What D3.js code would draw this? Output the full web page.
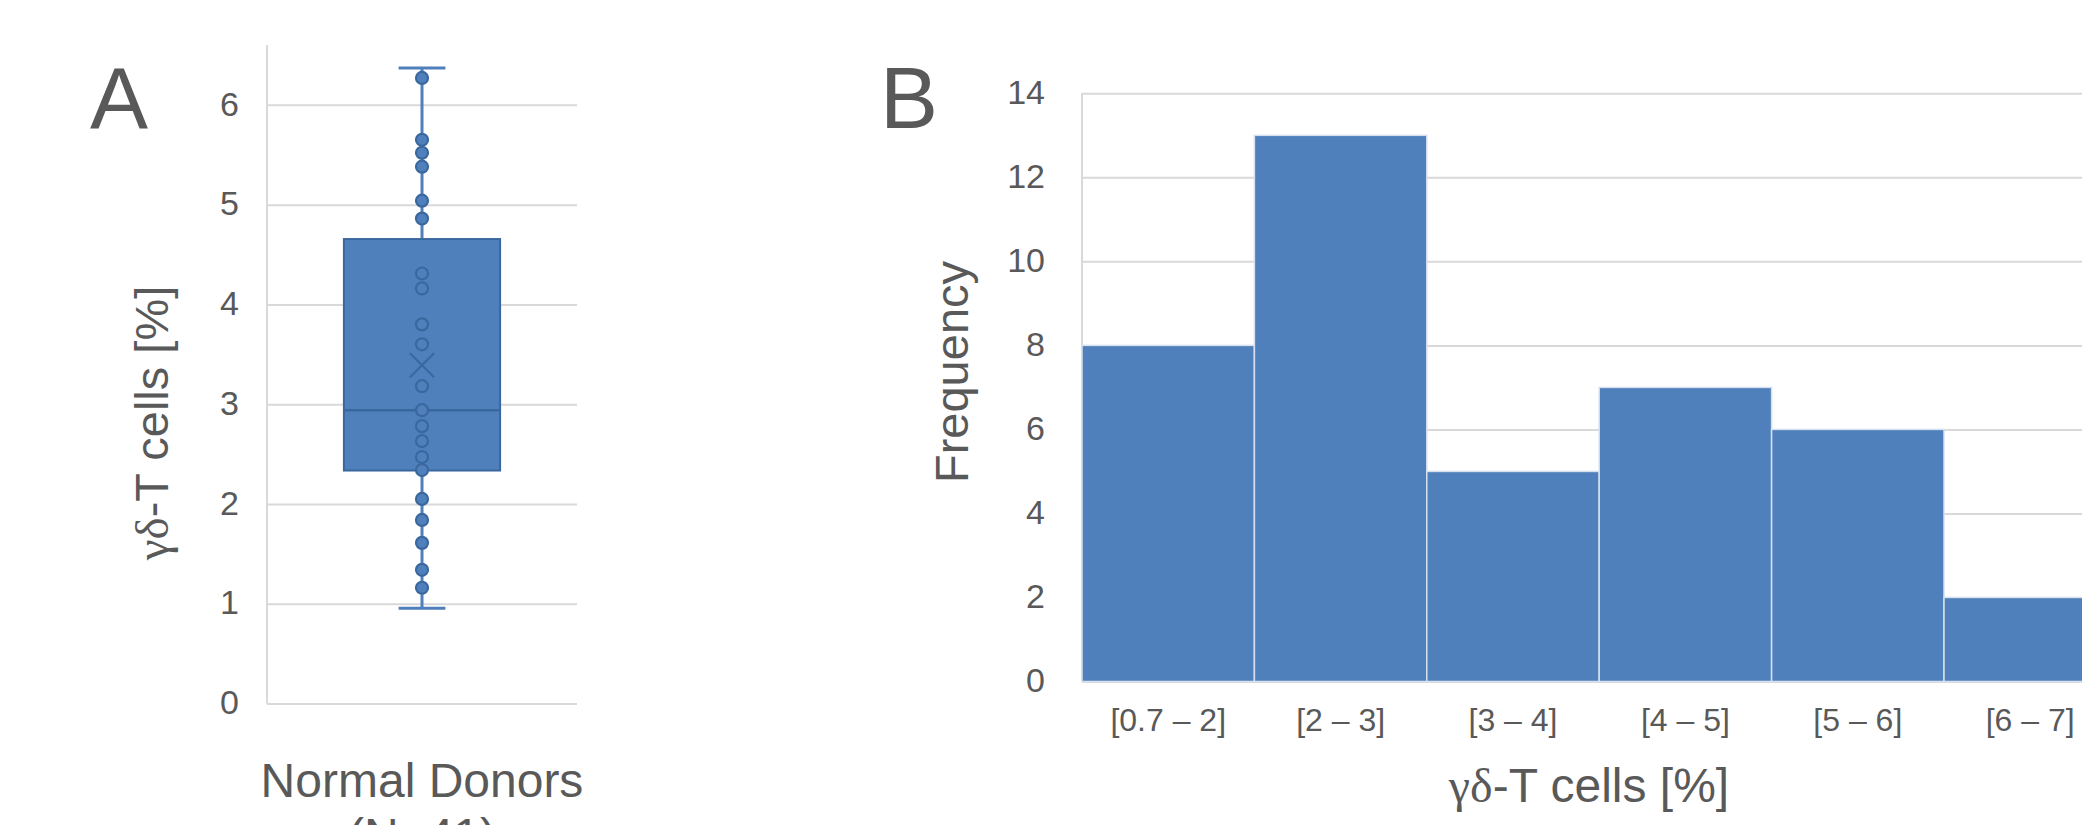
<!DOCTYPE html>
<html>
<head>
<meta charset="utf-8">
<script src="https://cdn.jsdelivr.net/npm/d3@7"></script>
<style>
  body { margin: 0; background: #fff; }
  svg { display: block; font-family: "Liberation Sans", Arial, sans-serif; }
</style>
</head>
<body>
<svg id="chart" width="2082" height="825"></svg>
<script>
// Panel A data: box plot of gd-T cells in normal donors
const donorGroup = ["Normal Donors"];
const fiveNumber = [0.955, 2.335, 2.94, 4.655, 6.37]; // min, q1, median, q3, max
const meanValue = 3.39;
const donorPoints = [6.27, 5.65, 5.52, 5.38, 5.04, 4.86, 4.31, 4.16, 3.80, 3.60,
  3.18, 2.94, 2.78, 2.63, 2.47, 2.34, 2.05, 1.84, 1.61, 1.34, 1.16];
const boxTicks = [0, 1, 2, 3, 4, 5, 6];

// Panel B data: histogram
const binLabels = ["[0.7 \u2013 2]", "[2 \u2013 3]", "[3 \u2013 4]", "[4 \u2013 5]", "[5 \u2013 6]", "[6 \u2013 7]"];
const binCounts = [8, 13, 5, 7, 6, 2];
const freqTicks = [0, 2, 4, 6, 8, 10, 12, 14];

const textColor = '#595959';
const gridColor = '#d9d9d9';
const barColor = '#4f80bc';
const edgeColor = '#3a689e';

const svg = d3.select('#chart');

// ---------- Panel A ----------
const aLeft = 267, aRight = 577, aTop = 45, aBottom = 703.5;
const yA = d3.scaleLinear().domain([0, 6.6]).range([aBottom, aTop]);
const xA = d3.scaleBand().domain(donorGroup).range([aLeft, aRight]).paddingInner(0.33).paddingOuter(0.33);

const gA = svg.append('g');

const axisA = gA.append('g')
  .attr('transform', `translate(${aLeft},0)`)
  .call(d3.axisLeft(yA).tickValues(boxTicks).tickFormat(d3.format('d'))
    .tickSize(-(aRight - aLeft)).tickPadding(28));
axisA.select('.domain').remove();
axisA.selectAll('line').attr('stroke', gridColor).attr('stroke-width', 2);
axisA.selectAll('text').attr('fill', textColor).style('font-size', '34px').attr('dy', '0.3em');

gA.append('line')
  .attr('x1', aLeft).attr('x2', aLeft)
  .attr('y1', yA(0)).attr('y2', yA(6.6))
  .attr('stroke', gridColor).attr('stroke-width', 2);

const bx = xA(donorGroup[0]);
const bw = xA.bandwidth();
const cx = bx + bw / 2;
const capW = bw * 0.3;

// whiskers
gA.append('line')
  .attr('x1', cx).attr('x2', cx)
  .attr('y1', yA(fiveNumber[0])).attr('y2', yA(fiveNumber[4]))
  .attr('stroke', barColor).attr('stroke-width', 3);
[fiveNumber[0], fiveNumber[4]].forEach(v => {
  gA.append('line')
    .attr('x1', cx - capW / 2).attr('x2', cx + capW / 2)
    .attr('y1', yA(v)).attr('y2', yA(v))
    .attr('stroke', barColor).attr('stroke-width', 3);
});

// box
gA.append('rect')
  .attr('x', bx).attr('width', bw)
  .attr('y', yA(fiveNumber[3]))
  .attr('height', yA(fiveNumber[1]) - yA(fiveNumber[3]))
  .attr('fill', barColor).attr('stroke', edgeColor).attr('stroke-width', 2);

gA.append('line')
  .attr('x1', bx).attr('x2', bx + bw)
  .attr('y1', yA(fiveNumber[2])).attr('y2', yA(fiveNumber[2]))
  .attr('stroke', edgeColor).attr('stroke-width', 2.5);

// inner points
gA.selectAll('circle.pt').data(donorPoints).join('circle')
  .attr('class', 'pt')
  .attr('cx', cx).attr('cy', d => yA(d))
  .attr('r', 6)
  .attr('fill', barColor).attr('stroke', edgeColor).attr('stroke-width', 2.2);

// mean marker
const my = yA(meanValue), ms = 12;
gA.append('path')
  .attr('d', `M${cx - ms},${my - ms}L${cx + ms},${my + ms}M${cx - ms},${my + ms}L${cx + ms},${my - ms}`)
  .attr('stroke', edgeColor).attr('stroke-width', 2.2).attr('fill', 'none');

// labels
gA.append('text').attr('x', 90).attr('y', 129)
  .attr('fill', textColor).style('font-size', '87px').text('A');

const yTitleA = gA.append('text')
  .attr('transform', `translate(168,423) rotate(-90)`)
  .attr('text-anchor', 'middle')
  .attr('fill', textColor).style('font-size', '47px');
yTitleA.append('tspan').style('font-family', '"Liberation Serif", serif').text('\u03b3\u03b4');
yTitleA.append('tspan').text('-T cells [%]');

const xTitleA = gA.append('text')
  .attr('x', cx).attr('y', 797)
  .attr('text-anchor', 'middle')
  .attr('fill', textColor).style('font-size', '48px');
xTitleA.append('tspan').attr('x', cx).text('Normal Donors');
xTitleA.append('tspan').attr('x', cx).attr('dy', 55).text('(N=41)');

// ---------- Panel B ----------
const bLeft = 1082, bTop = 93.3, bBottom = 681.5, binW = 172.4;
const bRight = bLeft + binW * binLabels.length;
const yB = d3.scaleLinear().domain([0, 14]).range([bBottom, bTop]);
const xB = d3.scaleBand().domain(binLabels).range([bLeft, bRight]).padding(0);

const gB = svg.append('g');

const axisB = gB.append('g')
  .attr('transform', `translate(${bLeft},0)`)
  .call(d3.axisLeft(yB).tickValues(freqTicks).tickSize(-(bRight - bLeft)).tickPadding(37));
axisB.select('.domain').remove();
axisB.selectAll('line').attr('stroke', gridColor).attr('stroke-width', 2);
axisB.selectAll('text').attr('fill', textColor).style('font-size', '34px').attr('dy', '0.3em');

gB.append('line')
  .attr('x1', bLeft).attr('x2', bLeft)
  .attr('y1', yB(0)).attr('y2', yB(14))
  .attr('stroke', gridColor).attr('stroke-width', 2);

gB.selectAll('rect.bar').data(binCounts).join('rect')
  .attr('class', 'bar')
  .attr('x', (d, i) => xB(binLabels[i]))
  .attr('width', xB.bandwidth())
  .attr('y', d => yB(d))
  .attr('height', d => yB(0) - yB(d))
  .attr('fill', barColor)
  .attr('stroke', '#d6e0ee').attr('stroke-width', 1.5);

const xAxisB = gB.append('g')
  .attr('transform', `translate(0,${bBottom})`)
  .call(d3.axisBottom(xB).tickSize(0).tickPadding(27));
xAxisB.select('.domain').remove();
xAxisB.selectAll('text').attr('fill', textColor).style('font-size', '32px');

gB.append('text').attr('x', 880).attr('y', 128)
  .attr('fill', textColor).style('font-size', '87px').text('B');

gB.append('text')
  .attr('transform', `translate(968,372) rotate(-90)`)
  .attr('text-anchor', 'middle')
  .attr('fill', textColor).style('font-size', '47px')
  .text('Frequency');

const xTitleB = gB.append('text')
  .attr('x', 1589).attr('y', 802)
  .attr('text-anchor', 'middle')
  .attr('fill', textColor).style('font-size', '48px');
xTitleB.append('tspan').style('font-family', '"Liberation Serif", serif').text('\u03b3\u03b4');
xTitleB.append('tspan').text('-T cells [%]');
</script>
</body>
</html>
